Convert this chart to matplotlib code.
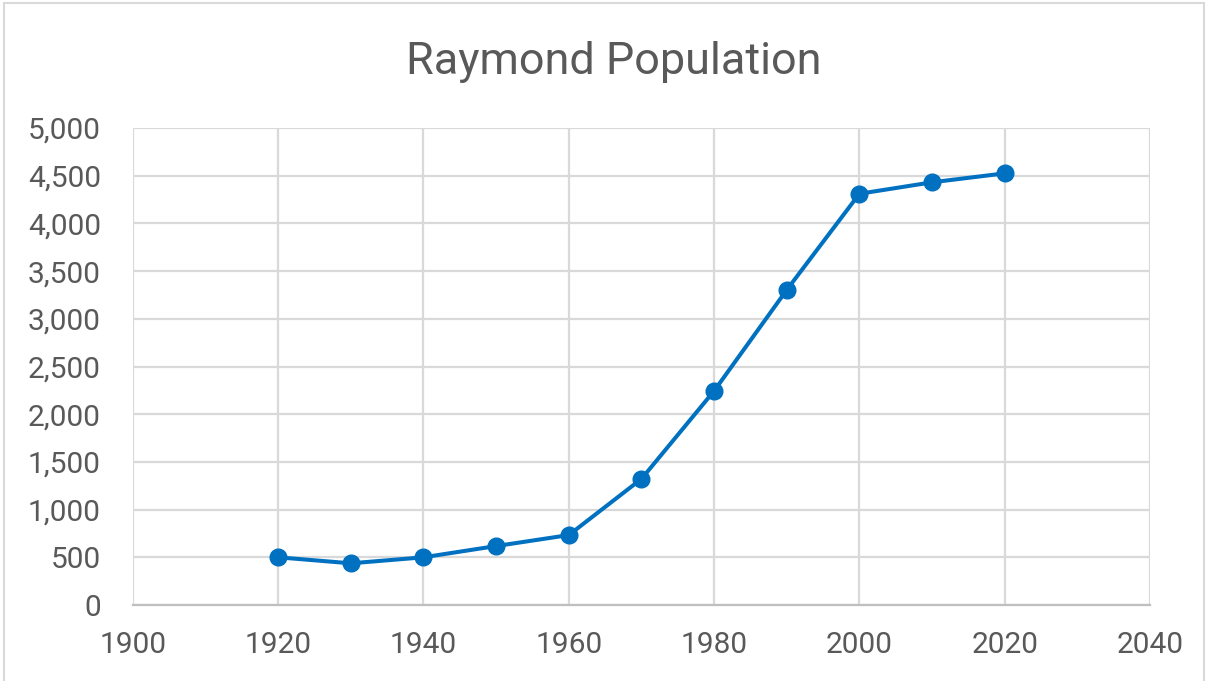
import matplotlib.pyplot as plt
from matplotlib.patches import Rectangle
from matplotlib.ticker import FuncFormatter

years = [1920, 1930, 1940, 1950, 1960, 1970, 1980, 1990, 2000, 2010, 2020]
population = [500, 437, 500, 618, 733, 1322, 2244, 3303, 4311, 4431, 4525]

x_ticks = [1900, 1920, 1940, 1960, 1980, 2000, 2020, 2040]
y_ticks = [0, 500, 1000, 1500, 2000, 2500, 3000, 3500, 4000, 4500, 5000]

plt.rcParams['font.family'] = ['Roboto', 'DejaVu Sans']

cinza = '#595959'
azul = '#0070C0'

fig = plt.figure(figsize=(12.08, 6.81), dpi=100)
ax = fig.add_axes([0.110, 0.1116, 0.842, 0.7004])

ax.plot(years, population, color=azul, linewidth=2.9, marker='o',
        markersize=12, zorder=3)

ax.set_xlim(1900, 2040)
ax.set_ylim(0, 5000)
ax.set_xticks(x_ticks)
ax.set_yticks(y_ticks)
ax.yaxis.set_major_formatter(FuncFormatter(lambda v, p: f'{int(v):,}'))

ax.grid(True, color='#d9d9d9', linewidth=1.6)
ax.set_axisbelow(True)
for lado in ['top', 'right', 'left']:
    ax.spines[lado].set_visible(False)
ax.spines['bottom'].set_color('#bfbfbf')
ax.spines['bottom'].set_linewidth(1.6)
ax.tick_params(length=0, labelsize=21.5, labelcolor=cinza)
ax.tick_params(axis='x', pad=19)
ax.tick_params(axis='y', pad=23)

fig.text(0.508, 0.909, 'Raymond Population', ha='center', va='center',
         fontsize=32.4, color=cinza)

# moldura externa
fig.patches.append(Rectangle((0.003, -0.01), 0.994, 1.005, transform=fig.transFigure,
                             fill=False, edgecolor='#d9d9d9', linewidth=1.5))

fig.savefig('out.png', dpi=100)
